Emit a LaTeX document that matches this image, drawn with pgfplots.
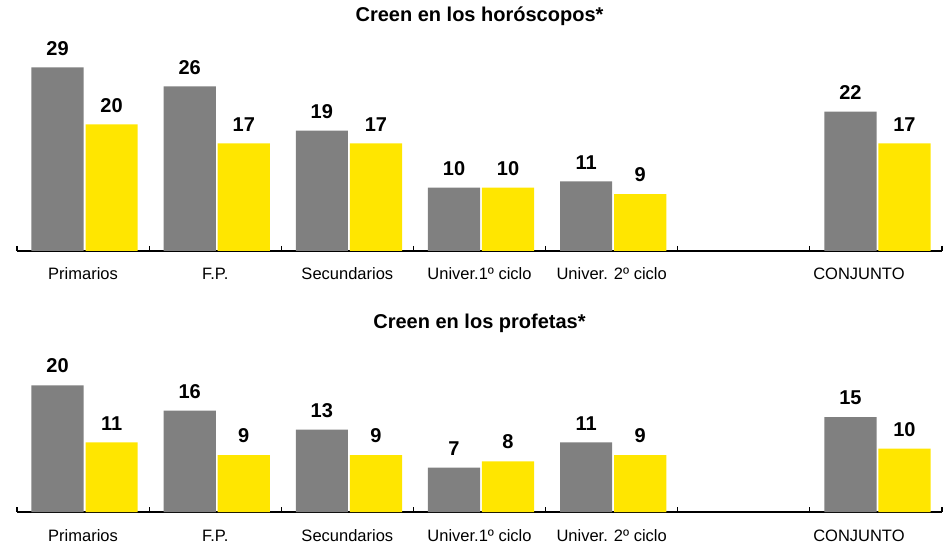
\documentclass[border=0pt]{standalone}
\usepackage{fontspec}
\setmainfont{Liberation Sans}
\usepackage{pgfplots}
\pgfplotsset{compat=1.18}

\definecolor{bargray}{RGB}{128,128,128}
\definecolor{baryellow}{RGB}{255,230,0}

\pgfplotsset{
  panel/.style={
    scale only axis,
    width=925pt,
    xmin=-0.5, xmax=6.5, ymin=0,
    axis x line=bottom, axis y line=none,
    x axis line style={-, black, line width=1.6pt},
    xtick={0,1,2,3,4,6},
    xticklabels={Primarios,F.P.,Secundarios,{Univer.1º ciclo},{Univer. 2º ciclo},{CONJUNTO\hspace*{34pt}}},
    minor xtick={-0.5,0.5,1.5,2.5,3.5,4.5,5.5,6.5},
    major tick length=0pt, minor tick length=-5pt,
    xtick align=inside,
    minor tick style={black, line width=1.2pt},
    xticklabel style={font=\fontsize{16.5}{18}\selectfont, anchor=base, yshift=-29pt},
    ybar, bar width=0.395,
    nodes near coords,
    /pgf/number format/assume math mode=true,
    every node near coord/.append style={font=\bfseries\fontsize{20}{22}\selectfont, anchor=south, inner sep=0pt, yshift=12pt, black},
    title style={font=\bfseries\fontsize{20}{22}\selectfont, at={(0.5,1)}, anchor=base},
    clip=false,
  },
}

\begin{document}
\begin{tikzpicture}
\useasboundingbox (0,0) rectangle (952pt,554pt);

% top panel
\begin{axis}[panel,
  at={(17pt,303pt)}, anchor=south west,
  ymax=34, height=215.2pt,
  title={Creen en los horóscopos*},
  title style={yshift=8pt},
]
\addplot[fill=bargray, draw=none, bar shift=-0.193] coordinates {(0,29) (1,26) (2,19) (3,10) (4,11) (6,22)};
\addplot[fill=baryellow, draw=none, bar shift=0.216] coordinates {(0,20) (1,17) (2,17) (3,10) (4,9) (6,17)};
\end{axis}

% bottom panel
\begin{axis}[panel,
  at={(17pt,42pt)}, anchor=south west,
  ymax=26, height=164.6pt,
  title={Creen en los profetas*},
  title style={yshift=13pt},
]
\addplot[fill=bargray, draw=none, bar shift=-0.193] coordinates {(0,20) (1,16) (2,13) (3,7) (4,11) (6,15)};
\addplot[fill=baryellow, draw=none, bar shift=0.216] coordinates {(0,11) (1,9) (2,9) (3,8) (4,9) (6,10)};
\end{axis}
\end{tikzpicture}
\end{document}
